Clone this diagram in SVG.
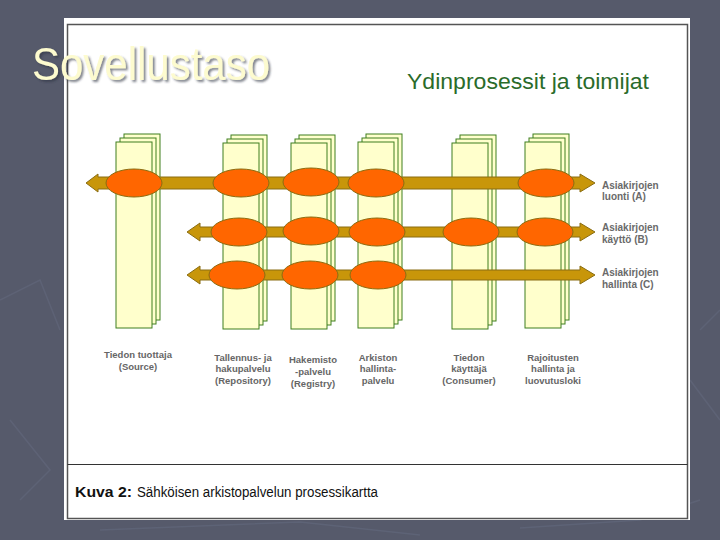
<svg xmlns="http://www.w3.org/2000/svg" width="720" height="540" viewBox="0 0 720 540">
<defs>
<style>
.pg{fill:#ffffcc;stroke:#3f7f1f;stroke-width:1}
.arr{fill:#c8960a;stroke:#8a6d12;stroke-width:1}
.ell{fill:#ff6600;stroke:#8a6d12;stroke-width:1}
.lbl{font-family:"Liberation Sans",Arial,sans-serif;font-size:9.5px;font-weight:bold;fill:#666;text-anchor:middle}
.rl{font-family:"Liberation Sans",Arial,sans-serif;font-size:10px;font-weight:bold;fill:#6a6a6a}
</style>
<filter id="sh" x="-5%" y="-20%" width="110%" height="140%"><feDropShadow dx="2" dy="2" stdDeviation="0.8" flood-color="#2f3240" flood-opacity="0.6"/></filter>
<g id="stack"><rect class="pg" x="8" y="-8" width="36" height="186"/><rect class="pg" x="4" y="-4" width="36" height="186"/><rect class="pg" x="0" y="0" width="36" height="186"/></g>
</defs>
<rect width="720" height="540" fill="#565a6b"/>
<g stroke="#61667a" stroke-width="1.5" fill="none" opacity="0.7">
<path d="M0 300 L40 280 L60 330"/><path d="M10 420 L50 470 L20 500"/><path d="M700 330 L720 310"/><path d="M690 380 L720 420"/><path d="M100 530 L300 522 L420 535"/><path d="M520 528 L640 520 L700 500"/>
</g>
<rect x="64" y="18" width="626" height="502" fill="#ffffff"/>
<rect x="67.5" y="24.5" width="620" height="494" fill="none" stroke="#555" stroke-width="1.5"/>
<line x1="67.5" y1="464.5" x2="687.5" y2="464.5" stroke="#333" stroke-width="1"/>
<text x="32" y="80" font-family="'Liberation Sans',Arial,sans-serif" font-size="46" fill="#fdfbcf" textLength="238" lengthAdjust="spacingAndGlyphs" filter="url(#sh)">Sovellustaso</text>
<text x="407" y="89" font-family="'Liberation Sans',Arial,sans-serif" font-size="22" fill="#2a6b2a" textLength="242" lengthAdjust="spacingAndGlyphs">Ydinprosessit ja toimijat</text>
<g id="col-source"><use href="#stack" x="116" y="142"/><text class="lbl" x="138" y="358">Tiedon tuottaja</text><text class="lbl" x="138" y="370">(Source)</text></g>
<g id="col-repository"><use href="#stack" x="223" y="143"/><text class="lbl" x="243" y="361">Tallennus- ja</text><text class="lbl" x="243" y="372">hakupalvelu</text><text class="lbl" x="243" y="384">(Repository)</text></g>
<g id="col-registry"><use href="#stack" x="291" y="143"/><text class="lbl" x="313" y="363">Hakemisto</text><text class="lbl" x="313" y="375">-palvelu</text><text class="lbl" x="313" y="387">(Registry)</text></g>
<g id="col-archive"><use href="#stack" x="358" y="142"/><text class="lbl" x="378" y="361">Arkiston</text><text class="lbl" x="378" y="372">hallinta-</text><text class="lbl" x="378" y="384">palvelu</text></g>
<g id="col-consumer"><use href="#stack" x="452" y="143"/><text class="lbl" x="469" y="361">Tiedon</text><text class="lbl" x="469" y="372">käyttäjä</text><text class="lbl" x="469" y="384">(Consumer)</text></g>
<g id="col-restrict"><use href="#stack" x="525" y="142"/><text class="lbl" x="553" y="361">Rajoitusten</text><text class="lbl" x="553" y="372">hallinta ja</text><text class="lbl" x="553" y="384">luovutusloki</text></g>
<g id="connectors">
<polygon class="arr" points="86,183 98,174 98,177 580,177 580,174 595,183 580,192 580,189 98,189 98,192"/>
<polygon class="arr" points="187,232 200,223 200,227 580,227 580,223 595,232 580,241 580,237 200,237 200,241"/>
<polygon class="arr" points="187,275 200,266 200,270 580,270 580,266 595,275 580,284 580,280 200,280 200,284"/>
</g>
<g id="row-a"><ellipse class="ell" cx="134" cy="183" rx="28" ry="14"/><ellipse class="ell" cx="241" cy="183" rx="28" ry="14"/><ellipse class="ell" cx="311" cy="182" rx="28" ry="14"/><ellipse class="ell" cx="376" cy="183" rx="28" ry="14"/><ellipse class="ell" cx="546" cy="183" rx="28" ry="14"/>
<text class="rl" x="602" y="189">Asiakirjojen</text><text class="rl" x="602" y="200">luonti (A)</text></g>
<g id="row-b"><ellipse class="ell" cx="239" cy="232" rx="28" ry="14"/><ellipse class="ell" cx="311" cy="231" rx="28" ry="14"/><ellipse class="ell" cx="377" cy="232" rx="28" ry="14"/><ellipse class="ell" cx="471" cy="232" rx="28" ry="14"/><ellipse class="ell" cx="545" cy="232" rx="28" ry="14"/>
<text class="rl" x="602" y="231">Asiakirjojen</text><text class="rl" x="602" y="243">käyttö (B)</text></g>
<g id="row-c"><ellipse class="ell" cx="237" cy="275" rx="28" ry="14"/><ellipse class="ell" cx="310" cy="275" rx="28" ry="14"/><ellipse class="ell" cx="378" cy="275" rx="28" ry="14"/>
<text class="rl" x="602" y="276">Asiakirjojen</text><text class="rl" x="602" y="288">hallinta (C)</text></g>
<text x="75" y="497" font-family="'Liberation Sans',Arial,sans-serif" font-size="14" font-weight="bold" fill="#111" textLength="57" lengthAdjust="spacingAndGlyphs">Kuva 2:</text>
<text x="137" y="497" font-family="'Liberation Sans',Arial,sans-serif" font-size="14" fill="#111" textLength="241" lengthAdjust="spacingAndGlyphs">Sähköisen arkistopalvelun prosessikartta</text>
</svg>
